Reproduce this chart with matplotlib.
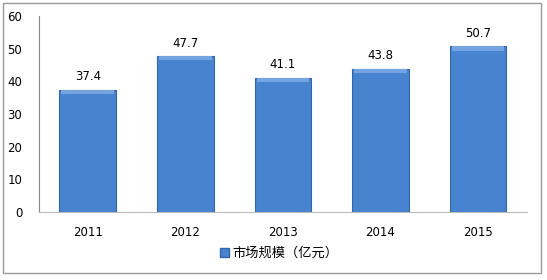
import matplotlib
matplotlib.use("Agg")
import matplotlib.pyplot as plt
from matplotlib.patches import Rectangle, Patch

plt.rcParams['font.family'] = ['DejaVu Sans', 'Noto Sans CJK SC']

years = ['2011', '2012', '2013', '2014', '2015']
market = [37.4, 47.7, 41.1, 43.8, 50.7]
series_name = '市场规模（亿元）'

fig = plt.figure(figsize=(5.47, 2.8), dpi=100)
ax = fig.add_axes([0.0713, 0.243, 0.892, 0.700])

x = list(range(len(years)))
bars = ax.bar(x, market, width=0.58, color='#4883D0', edgecolor='#3565A8', linewidth=0.8)
# light bevel along the top of each bar
ax.bar(x, [1.3] * len(x), bottom=[v - 1.3 for v in market], width=0.54,
       color='#74A3E2', linewidth=0)
for b, v in zip(bars, market):
    ax.text(b.get_x() + b.get_width() / 2, v + 2, f'{v}', ha='center', va='bottom', fontsize=8.5)

ax.set_xlim(-0.5, len(years) - 0.5)
ax.set_ylim(0, 60)
ax.set_yticks(range(0, 61, 10))
ax.set_xticks(x)
ax.set_xticklabels(years, fontsize=8.5)
ax.tick_params(axis='y', length=0, labelsize=8.5, pad=12)
ax.tick_params(axis='x', length=0, pad=10)
for s in ['top', 'right']:
    ax.spines[s].set_visible(False)
ax.spines['left'].set_color('#888888')
ax.spines['bottom'].set_color('#BBBBBB')

handle = Patch(facecolor='#4883D0', edgecolor='#3565A8', label=series_name)
fig.legend(handles=[handle], loc='center', bbox_to_anchor=(0.51, 0.095), frameon=False,
           handlelength=0.7, handleheight=0.7, handletextpad=0.2,
           prop={'family': ['Noto Sans CJK SC'], 'size': 9.5})

fig.patches.append(Rectangle((3 / 547, 7 / 280), 538 / 547, 270 / 280, transform=fig.transFigure,
                             fill=False, edgecolor='#9A9A9A', linewidth=1))

fig.savefig('out.png', dpi=100)
